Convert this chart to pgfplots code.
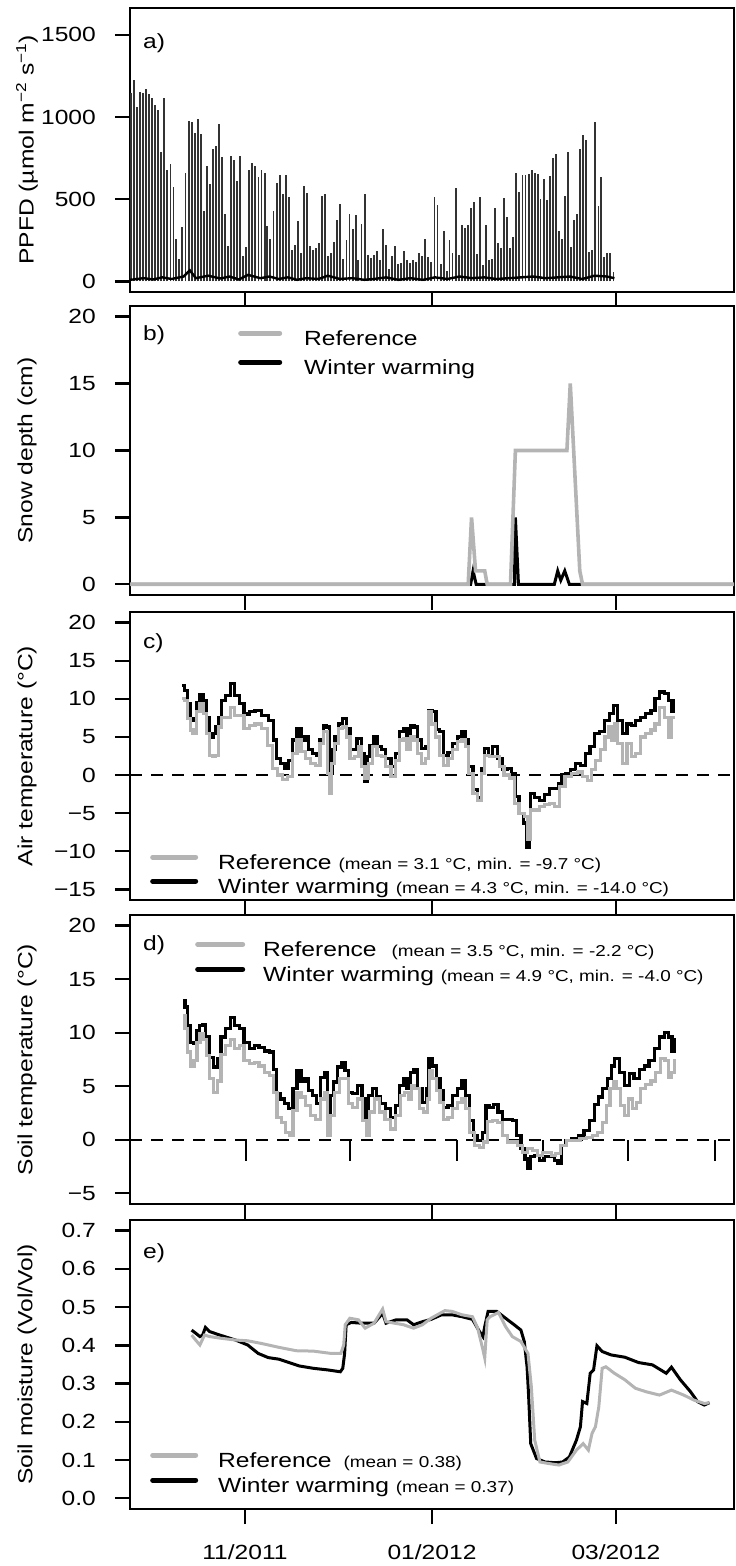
\documentclass[border=0pt]{standalone}
\usepackage{pgfplots}
\pgfplotsset{compat=1.18}
\usepackage{fontspec}
\setmainfont{Liberation Sans}[FakeStretch=1.2]
\definecolor{refgray}{RGB}{180,180,180}
\newcommand{\mainsz}{\fontsize{20.5bp}{24bp}\selectfont}
\newcommand{\smallsz}{\fontsize{15.75bp}{19bp}\selectfont}
\pgfplotsset{
  panel/.style={
    scale only axis, width=604bp,
    xmin=-37.5, xmax=159.5,
    axis line style={line width=2.4bp},
    every tick/.style={line width=2.4bp, black},
    major tick length=15bp,
    tick align=outside,
    xtick pos=left, ytick pos=left,
    xtick={0,61,121}, xticklabels={},
    tick label style={font=\mainsz},
    label style={font=\mainsz},
    yticklabel style={anchor=east, inner sep=0pt, xshift=-19bp},
    xticklabel style={anchor=north, inner sep=0pt, yshift=-20bp},
    ylabel style={at={(axis description cs:-0.1705,0.5)}, anchor=center},
    legend style={font=\mainsz, draw=none, fill=none, inner sep=0pt, column sep=0pt,
      nodes={inner sep=0pt, text height=15bp, text depth=5bp}},
    legend cell align=left,
  },
}
\begin{document}
\begin{tikzpicture}
\path[use as bounding box] (0,0) rectangle (736bp,1566bp);
% ---------------- a) PPFD
\begin{axis}[panel, at={(130bp,1274bp)}, anchor=south west, height=284bp,
  ymin=-64, ymax=1664, ytick={0,500,1000,1500}, yticklabels={0,500,1000,1500},
  ylabel={PPFD (µmol m\textsuperscript{−2} s\textsuperscript{−1})}]
\addplot[ycomb, black!80, line width=1.9bp] coordinates {
(-37.2,1145)(-36.2,1226)(-35.2,1063)(-34.2,1155)(-33.2,1145)(-32.2,1169)(-31.3,1139)(-30.3,1114)(-29.3,1073)(-28.3,1043)
(-27.3,789)(-26.3,1114)(-25.3,677)(-24.3,712)(-23.3,575)(-22.4,260)(-21.4,138)(-20.4,331)(-19.4,657)(-18.4,978)
(-17.4,972)(-16.4,905)(-15.4,990)(-14.4,897)(-13.4,427)(-12.5,701)(-11.5,592)(-10.5,803)(-9.5,823)(-8.5,958)
(-7.5,758)(-6.5,413)(-5.5,213)(-4.5,762)(-3.5,738)(-2.6,612)(-1.6,762)(-0.6,152)(0.4,209)(1.4,677)
(2.4,718)(3.4,701)(4.4,636)(5.4,681)(6.4,657)(7.3,337)(8.3,260)(9.3,427)(10.3,600)(11.3,646)
(12.3,535)(13.3,646)(14.3,514)(15.3,189)(16.3,220)(17.2,366)(18.2,173)(19.2,579)(20.2,541)(21.2,213)
(22.2,193)(23.2,203)(24.2,234)(25.2,518)(26.2,535)(27.1,152)(28.1,173)(29.1,240)(30.1,372)(31.1,470)
(32.1,138)(33.1,254)(34.1,409)(35.1,321)(36.1,403)(37.0,132)(38.0,348)(39.0,535)(40.0,159)(41.0,144)
(42.0,163)(43.0,183)(44.0,132)(45.0,317)(46.0,224)(46.9,77)(47.9,152)(48.9,218)(49.9,108)(50.9,112)
(51.9,183)(52.9,132)(53.9,112)(54.9,128)(55.9,118)(56.8,173)(57.8,152)(58.8,260)(59.8,148)(60.8,118)
(61.8,514)(62.8,464)(63.8,108)(64.8,307)(65.8,63)(66.7,254)(67.7,173)(68.7,571)(69.7,159)(70.7,342)
(71.7,327)(72.7,346)(73.7,449)(74.7,484)(75.7,169)(76.6,514)(77.6,98)(78.6,342)(79.6,128)(80.6,138)
(81.6,447)(82.6,234)(83.6,205)(84.6,508)(85.6,392)(86.5,205)(87.5,270)(88.5,661)(89.5,545)(90.5,646)
(91.5,646)(92.5,651)(93.5,677)(94.5,661)(95.5,651)(96.4,504)(97.4,626)(98.4,498)(99.4,640)(100.4,754)
(101.4,775)(102.4,307)(103.4,260)(104.4,518)(105.4,789)(106.3,209)(107.3,372)(108.3,413)(109.3,803)(110.3,890)
(111.3,860)(112.3,179)(113.3,193)(114.3,968)(115.3,458)(116.2,636)(117.2,148)(118.2,173)(119.2,173)(120.2,57)
};
\addplot[black, line width=2.4bp] coordinates {
(-37.5,10)(-33,20)(-30,12)(-27,25)(-24,15)(-20,30)(-18,68)(-16,20)(-12,35)(-8,18)(-5,30)(-2,12)
(1,40)(5,20)(8,30)(11,15)(14,25)(17,10)(20,20)(24,15)(27,35)(31,15)(35,20)(39,10)(42,15)(46,25)
(50,10)(54,20)(58,10)(62,25)(66,15)(70,30)(74,20)(78,25)(82,15)(86,20)(90,25)(94,30)(98,20)
(102,25)(106,30)(110,15)(114,35)(118,30)(120.5,20)
};
\node[anchor=west, font=\mainsz, inner sep=0pt] at (rel axis cs:0.0215,0.877) {a)};
\end{axis}
% ---------------- b) Snow depth
\begin{axis}[panel, at={(130bp,971bp)}, anchor=south west, height=289bp,
  ymin=-0.8, ymax=20.8, ytick={0,5,10,15,20}, yticklabels={0,5,10,15,20},
  ylabel={Snow depth (cm)}, reverse legend,
  legend style={at={(rel axis cs:0.1788,0.916)}, anchor=north west, row sep=9bp},
  legend image code/.code={\draw[#1, line width=5bp, line cap=round] (2.5bp,7.2bp) -- (41.5bp,7.2bp); \path[draw=none] (0bp,0bp) (66bp,0bp);}]
\addplot[black, line width=3bp] coordinates {
(-37.5,0)(73.6,0)(74.4,1)(75.4,0)(87.9,0)(88.2,5)(89.2,0)(100.9,0)(102,1)(103,0.3)(104.3,1)(105.8,0)(159.5,0)};
\addlegendentry{Winter warming}
\addplot[refgray, line width=3.6bp] coordinates {
(-37.5,0)(72.8,0)(73.9,5)(75.2,1)(78.2,1)(79,0)(86.6,0)(88.2,10)(105,10)(106.1,15)(109.2,1)(110.1,0)(159.5,0)};
\addlegendentry{Reference}
\node[anchor=west, font=\mainsz, inner sep=0pt] at (rel axis cs:0.0215,0.900) {b)};
\end{axis}
% ---------------- c) Air temperature
\begin{axis}[panel, at={(130bp,666bp)}, anchor=south west, height=288bp,
  ymin=-16.4, ymax=21.4, ytick={-15,-10,-5,0,5,10,15,20}, yticklabels={−15,−10,−5,0,5,10,15,20},
  ylabel={Air temperature (°C)}, reverse legend,
  legend style={at={(rel axis cs:0.0331,0.159)}, anchor=north west, row sep=4bp},
  legend image code/.code={\draw[#1, line width=5bp, line cap=round] (2.5bp,7.2bp) -- (45.5bp,7.2bp); \path[draw=none] (0bp,0bp) (68bp,0bp);}]
\addplot[black, line width=2bp, dash pattern=on 12bp off 9bp, forget plot] coordinates {(-37.5,0)(159.5,0)};
\addplot[black, line width=3.2bp, const plot mark mid] coordinates {
(-20.4,11.7)(-19.0,11.1)(-18.3,9.4)(-17.4,7.2)(-16.5,7.4)(-15.2,9.5)(-14.1,10.6)(-13.0,9.8)(-12.0,7.6)(-10.9,5.0)
(-10.0,5.4)(-9.2,6.3)(-8.2,7.6)(-7.1,9.8)(-5.4,10.4)(-4.1,12.0)(-2.7,10.4)(-1.1,9.4)(0.5,8.0)(2.2,8.3)
(4.3,8.5)(6.5,7.8)(8.7,7.2)(9.8,4.6)(10.9,2.2)(12.5,1.5)(13.6,0.9)(14.7,1.9)(16.3,4.6)(17.6,6.1)
(19.0,4.6)(20.1,5.0)(21.2,3.3)(22.8,2.8)(23.9,2.6)(25.0,4.6)(26.1,6.5)(27.2,6.3)(28.0,0.2)(28.8,3.3)
(29.9,5.0)(31.0,6.7)(32.6,7.4)(33.7,6.1)(34.8,3.3)(35.9,3.3)(37.2,4.8)(38.6,2.8)(39.4,-0.9)(40.2,2.4)
(41.3,3.9)(42.4,5.0)(43.7,3.7)(45.1,3.3)(46.8,2.2)(48.4,1.1)(49.8,2.8)(51.1,5.7)(52.4,6.1)(53.3,4.6)
(54.6,6.5)(55.7,6.3)(57.1,4.6)(58.2,3.5)(59.6,3.7)(60.3,8.5)(61.8,8.3)(62.8,6.0)(64.1,5.7)(65.5,2.6)
(66.9,3.0)(68.5,4.1)(70.1,5.0)(71.2,5.7)(72.3,4.6)(73.7,1.1)(75.0,-1.9)(76.6,-3.0)(77.7,0.9)(78.8,3.5)
(79.9,2.6)(81.5,3.7)(83.2,2.2)(84.8,0.7)(86.4,0.9)(87.5,0.2)(88.6,-2.8)(90.2,-5.0)(91.3,-6.3)(92.4,-9.5)
(93.0,-7.2)(93.5,-2.4)(95.1,-3.0)(96.8,-3.3)(98.4,-2.6)(100.0,-1.8)(101.7,-1.8)(102.7,-1.1)(103.8,0.0)(105.5,0.2)
(107.1,0.7)(108.7,1.5)(110.3,1.3)(112.0,2.8)(113.1,3.7)(114.7,5.4)(116.3,5.7)(118.0,7.2)(119.6,8.1)(120.9,9.1)
(122.3,7.2)(124.0,5.4)(125.2,6.7)(126.7,6.5)(128.3,7.2)(129.9,7.6)(131.6,8.1)(133.2,8.5)(134.3,10.0)(135.9,10.9)
(137.5,10.7)(138.6,9.8)(139.4,8.3)(140.3,9.8)};
\addlegendentry{Winter warming {\smallsz(mean = 4.3 °C, min. = -14.0 °C)}}
\addplot[refgray, line width=3.2bp, const plot mark mid] coordinates {
(-20.4,10.0)(-19.0,9.8)(-18.3,7.4)(-17.4,5.9)(-16.5,5.4)(-15.2,8.3)(-14.1,9.4)(-13.0,8.1)(-12.0,5.4)(-11.1,2.6)
(-10.0,2.4)(-9.2,2.6)(-8.2,6.3)(-7.1,7.6)(-5.4,7.6)(-4.1,8.9)(-2.7,7.8)(-1.1,7.8)(0.5,6.1)(2.2,6.5)
(4.3,6.7)(6.5,6.1)(8.2,3.9)(9.8,0.9)(11.4,0.0)(13.1,-0.6)(14.7,-0.2)(16.3,2.8)(17.6,4.6)(19.0,3.1)
(20.7,2.2)(22.3,1.5)(23.9,1.3)(25.0,4.1)(26.3,5.7)(27.4,0.2)(27.8,-2.4)(28.5,1.5)(29.9,4.1)(31.0,6.1)
(32.6,6.3)(33.7,5.0)(34.8,2.2)(36.4,2.4)(37.5,3.7)(38.6,1.1)(39.7,-0.4)(40.8,1.5)(42.4,3.7)(43.7,2.6)
(45.1,2.4)(46.8,1.1)(48.4,-0.2)(49.8,1.9)(51.1,4.6)(52.4,4.8)(53.3,3.3)(54.6,5.0)(55.7,4.6)(57.1,2.8)
(58.2,1.5)(59.6,2.2)(60.3,8.3)(61.4,6.7)(62.8,5.0)(64.1,2.6)(65.5,1.3)(66.9,2.2)(68.5,3.3)(70.1,4.4)
(71.5,4.6)(72.3,3.7)(73.7,0.2)(75.0,-2.4)(76.6,-3.3)(77.7,0.2)(78.8,2.6)(80.5,2.4)(82.1,2.4)(83.7,1.1)
(85.3,0.0)(87.0,-0.4)(88.6,-3.7)(90.2,-5.0)(91.9,-5.4)(92.6,-8.5)(93.5,-4.6)(95.1,-4.6)(96.8,-4.1)(98.4,-3.9)
(100.0,-3.7)(101.7,-4.1)(103.3,-1.5)(105.5,-0.2)(107.6,0.2)(109.3,0.4)(110.9,-0.2)(112.5,-0.7)(113.6,0.7)(115.2,1.9)
(116.9,3.3)(118.0,5.0)(119.1,6.3)(120.1,4.6)(120.9,6.7)(122.3,4.1)(124.0,1.5)(125.2,4.1)(126.7,2.4)(128.3,2.8)
(129.9,5.0)(131.6,5.4)(133.2,5.9)(134.3,6.7)(135.9,8.9)(137.5,7.6)(138.6,5.0)(139.7,7.6)(140.3,7.6)};
\addlegendentry{Reference {\smallsz(mean = 3.1 °C, min. = -9.7 °C)}}
\node[anchor=west, font=\mainsz, inner sep=0pt] at (rel axis cs:0.0215,0.892) {c)};
\end{axis}
% ---------------- d) Soil temperature
\begin{axis}[panel, at={(130bp,362bp)}, anchor=south west, height=289bp,
  ymin=-6, ymax=21, ytick={-5,0,5,10,15,20}, yticklabels={−5,0,5,10,15,20},
  ylabel={Soil temperature (°C)}, reverse legend,
  legend style={at={(rel axis cs:0.1076,0.909)}, anchor=north west, row sep=5bp},
  legend image code/.code={\draw[#1, line width=5bp, line cap=round] (2.5bp,7.2bp) -- (47.5bp,7.2bp); \path[draw=none] (0bp,0bp) (68bp,0bp);}]
\addplot[black, line width=2bp, dash pattern=on 12bp off 9bp, forget plot] coordinates {(-37.5,0)(159.5,0)};
\addplot[ycomb, black, line width=2bp, forget plot] coordinates {(0.3,-2)(34.2,-2)(69.2,-2)(97.3,-2)(125.0,-2)(153.3,-2)};
\addplot[black, line width=3.2bp, const plot mark mid] coordinates {
(-20.1,13.0)(-19.0,12.4)(-18.3,10.7)(-17.2,9.1)(-16.1,9.0)(-15.2,10.2)(-14.4,10.7)(-13.3,10.8)(-12.2,9.6)(-10.9,7.7)
(-9.6,6.8)(-8.5,7.6)(-7.1,9.6)(-5.4,10.4)(-4.1,11.4)(-2.7,10.7)(-1.1,10.4)(0.5,9.1)(2.2,8.5)(3.8,8.8)
(5.4,8.6)(7.1,8.3)(8.7,8.2)(9.8,6.6)(10.9,4.3)(12.0,3.8)(13.6,3.4)(15.0,2.9)(16.3,4.8)(17.6,6.5)
(19.0,5.5)(20.1,5.7)(21.2,4.6)(22.8,4.1)(24.1,3.4)(25.2,5.8)(26.6,6.3)(27.4,2.3)(28.3,4.1)(29.4,5.4)
(30.7,6.8)(32.1,7.2)(33.2,6.5)(34.2,4.4)(35.9,4.3)(37.5,5.1)(38.9,3.8)(39.7,2.1)(40.8,4.1)(42.2,4.8)
(43.5,4.0)(45.1,3.4)(46.7,2.9)(48.4,2.1)(49.8,3.2)(51.1,5.1)(52.4,5.7)(53.3,4.8)(54.6,6.3)(55.7,6.6)
(57.1,4.8)(58.5,3.5)(59.8,4.8)(60.3,7.6)(61.8,6.9)(63.1,5.7)(64.1,4.6)(65.5,3.0)(66.9,3.2)(68.5,4.1)
(70.1,4.8)(71.5,5.5)(72.6,4.1)(73.9,1.8)(75.0,0.4)(76.6,-0.1)(78.1,0.7)(79.1,3.2)(80.5,3.0)(81.8,3.3)
(83.2,2.6)(84.8,1.9)(86.4,1.9)(87.9,1.8)(89.2,0.4)(90.8,-0.8)(91.9,-1.8)(92.6,-2.7)(93.7,-1.6)(95.1,-1.5)
(96.8,-1.9)(98.4,-1.6)(100.0,-1.6)(101.7,-1.9)(102.5,-2.2)(103.8,-0.5)(105.5,-0.1)(107.6,0.1)(109.8,0.4)(111.4,0.9)
(113.1,1.8)(114.7,3.3)(115.8,4.0)(117.4,4.8)(119.1,5.7)(120.1,6.9)(121.2,7.6)(122.9,6.3)(124.5,5.1)(126.1,6.2)
(127.7,5.7)(129.4,6.6)(131.0,6.9)(132.6,7.4)(134.3,8.5)(135.9,9.6)(137.5,10.0)(138.9,9.6)(139.7,8.3)(140.5,9.4)};
\addlegendentry{Winter warming {\smallsz(mean = 4.9 °C, min. = -4.0 °C)}}
\addplot[refgray, line width=3.2bp, const plot mark mid] coordinates {
(-20.1,11.6)(-19.0,10.4)(-18.3,8.2)(-17.2,6.9)(-16.1,7.4)(-15.2,9.1)(-14.1,9.9)(-13.0,9.4)(-12.2,7.9)(-10.9,5.7)
(-9.6,4.4)(-8.5,5.5)(-7.1,8.0)(-5.4,8.8)(-4.1,9.4)(-2.7,8.5)(-1.1,8.8)(0.5,7.4)(2.2,7.1)(3.8,7.2)
(5.4,6.9)(7.1,6.3)(8.7,6.0)(9.8,4.4)(11.1,2.1)(12.5,1.6)(14.1,0.7)(15.0,0.4)(16.3,2.7)(17.6,4.4)
(19.0,4.0)(20.7,3.2)(22.3,2.3)(23.9,1.9)(25.2,3.8)(26.6,4.4)(27.4,0.4)(28.3,2.3)(29.9,4.4)(31.5,5.7)
(33.2,5.7)(34.2,3.4)(35.9,3.0)(37.5,3.8)(39.2,1.8)(40.0,0.4)(41.3,2.6)(43.0,3.8)(44.6,2.6)(46.7,1.9)
(48.4,1.0)(50.0,2.3)(51.3,4.1)(52.7,4.4)(53.8,3.8)(54.6,5.1)(56.0,4.8)(57.6,2.9)(58.9,2.6)(60.0,3.8)
(60.3,6.5)(61.8,5.7)(63.1,4.6)(64.1,3.5)(65.5,1.9)(66.9,2.1)(68.5,2.9)(70.1,3.5)(71.5,3.8)(72.6,2.9)
(73.9,0.7)(75.6,-0.5)(77.2,-0.7)(78.5,-0.2)(79.9,1.7)(81.5,1.8)(83.2,1.6)(84.8,0.4)(86.4,-0.2)(88.1,-0.2)
(89.7,-0.5)(91.3,-1.2)(93.0,-0.8)(94.6,-1.0)(96.2,-1.5)(97.9,-1.2)(99.2,-1.2)(100.6,-1.5)(102.2,-1.3)(103.8,-0.5)
(106.0,-0.1)(108.2,-0.1)(110.3,0.1)(112.5,0.2)(114.2,0.4)(115.8,0.7)(117.4,1.6)(118.5,3.2)(119.6,4.8)(120.7,5.4)
(121.8,4.8)(123.1,3.2)(124.5,2.3)(125.6,3.8)(127.0,2.9)(128.3,3.5)(129.9,4.8)(131.6,5.2)(133.2,5.5)(134.8,6.3)
(136.5,7.6)(137.5,7.4)(138.6,5.8)(139.7,6.3)(140.5,7.4)};
\addlegendentry{Reference\hspace{15bp}{\smallsz(mean = 3.5 °C, min. = -2.2 °C)}}
\node[anchor=west, font=\mainsz, inner sep=0pt] at (rel axis cs:0.0215,0.896) {d)};
\end{axis}
% ---------------- e) Soil moisture
\begin{axis}[panel, at={(130bp,57bp)}, anchor=south west, height=289bp,
  ymin=-0.028, ymax=0.728, ytick={0,0.1,0.2,0.3,0.4,0.5,0.6,0.7},
  yticklabels={0.0,0.1,0.2,0.3,0.4,0.5,0.6,0.7},
  xticklabels={11/2011,01/2012,03/2012},
  ylabel={Soil moisture (Vol/Vol)}, reverse legend,
  legend style={at={(rel axis cs:0.0331,0.1965)}, anchor=north west, row sep=5bp},
  legend image code/.code={\draw[#1, line width=5bp, line cap=round] (2.5bp,7.2bp) -- (45.5bp,7.2bp); \path[draw=none] (0bp,0bp) (68bp,0bp);}]
\addplot[black, line width=3bp] coordinates {
(-17.4,0.440)(-16.1,0.432)(-14.7,0.423)(-13.8,0.427)(-12.9,0.447)(-11.5,0.436)(-8.2,0.427)(-3.1,0.414)(0.9,0.401)(4.3,0.379)
(7.6,0.368)(11.0,0.364)(14.4,0.355)(17.8,0.346)(22.3,0.340)(26.8,0.336)(31.1,0.331)(31.9,0.340)(32.5,0.379)(33.0,0.454)
(34.7,0.460)(38.1,0.458)(39.8,0.458)(42.1,0.458)(44.9,0.484)(46.0,0.458)(49.4,0.467)(52.8,0.467)(55.0,0.454)(57.9,0.462)
(60.7,0.468)(64.1,0.480)(67.5,0.480)(70.8,0.475)(74.2,0.468)(76.5,0.436)(77.6,0.423)(78.2,0.449)(79.3,0.489)(82.1,0.489)
(85.0,0.471)(87.8,0.454)(90.0,0.440)(91.1,0.410)(92.0,0.344)(92.5,0.270)(93.2,0.143)(95.1,0.104)(97.9,0.095)(101.3,0.093)
(103.6,0.095)(105.8,0.108)(108.1,0.152)(109.4,0.187)(110.1,0.253)(111.5,0.248)(112.6,0.327)(113.7,0.336)(114.8,0.399)(116.5,0.384)
(119.4,0.375)(123.9,0.369)(128.4,0.355)(132.9,0.349)(137.4,0.327)(139.1,0.343)(142.0,0.310)(145.3,0.279)(147.6,0.253)(149.8,0.244)
(151.5,0.250)};
\addlegendentry{Winter warming {\smallsz(mean = 0.37)}}
\addplot[refgray, line width=3bp] coordinates {
(-17.4,0.427)(-16.1,0.414)(-14.7,0.401)(-13.2,0.427)(-11.5,0.423)(-8.2,0.419)(-3.1,0.414)(0.9,0.412)(5.4,0.405)(11.0,0.395)
(16.7,0.386)(22.3,0.385)(28.0,0.379)(31.3,0.379)(32.2,0.401)(32.7,0.454)(34.2,0.471)(37.0,0.467)(39.2,0.445)(42.1,0.458)
(44.9,0.495)(46.0,0.462)(48.8,0.458)(51.7,0.454)(55.0,0.445)(57.9,0.454)(60.7,0.471)(65.2,0.491)(67.5,0.489)(70.8,0.480)
(74.2,0.475)(75.9,0.445)(77.6,0.389)(78.2,0.367)(79.0,0.467)(79.9,0.475)(82.7,0.486)(85.0,0.449)(87.2,0.423)(90.0,0.410)
(92.3,0.379)(93.4,0.292)(94.5,0.152)(96.2,0.095)(99.0,0.091)(102.4,0.087)(105.3,0.095)(108.1,0.126)(110.3,0.143)(112.0,0.126)
(113.2,0.170)(114.3,0.187)(115.4,0.239)(116.5,0.340)(117.7,0.344)(120.5,0.327)(123.9,0.310)(127.3,0.288)(130.7,0.279)(135.2,0.270)
(139.1,0.283)(143.1,0.270)(146.4,0.257)(149.8,0.248)(151.5,0.250)};
\addlegendentry{Reference\hspace{12bp}{\smallsz(mean = 0.38)}}
\node[anchor=west, font=\mainsz, inner sep=0pt] at (rel axis cs:0.0215,0.886) {e)};
\end{axis}
\end{tikzpicture}
\end{document}
